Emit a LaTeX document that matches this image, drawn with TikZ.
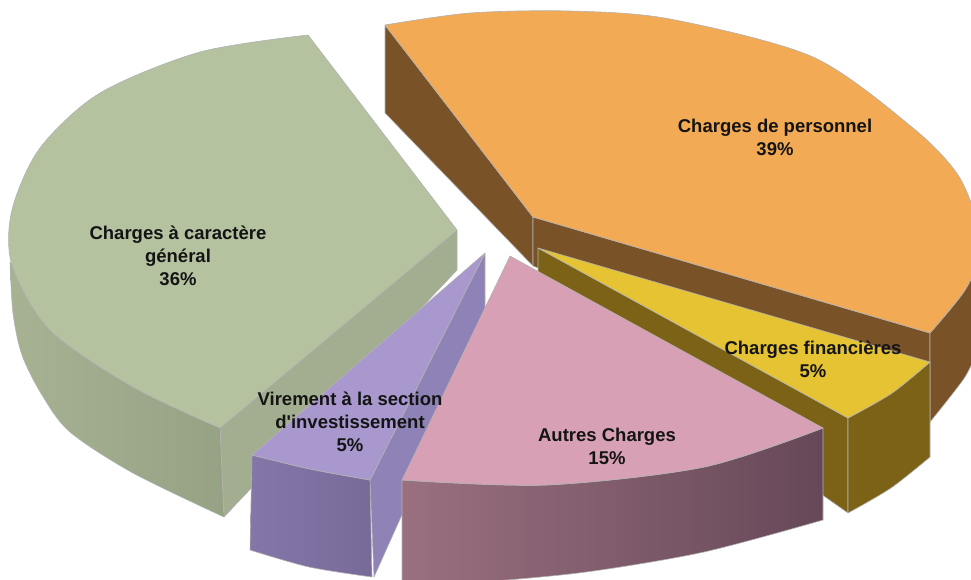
\documentclass[tikz,border=0pt]{standalone}
\usepackage{fontspec}
\setmainfont{Liberation Sans}[Ligatures=TeXOff]
\definecolor{orangetop}{RGB}{242,170,85}
\definecolor{orangeside}{RGB}{122,82,40}
\definecolor{yellowtop}{RGB}{230,195,50}
\definecolor{yellowside}{RGB}{124,98,22}
\definecolor{greentop}{RGB}{180,194,160}
\definecolor{greensideL}{RGB}{166,178,146}
\definecolor{greensideR}{RGB}{150,162,132}
\definecolor{greenradial}{RGB}{162,174,143}
\definecolor{purpletop}{RGB}{168,152,205}
\definecolor{purplesideL}{RGB}{132,118,168}
\definecolor{purplesideR}{RGB}{120,106,152}
\definecolor{purpleradial}{RGB}{142,130,182}
\definecolor{pinktop}{RGB}{216,160,180}
\definecolor{pinksideL}{RGB}{154,112,128}
\definecolor{pinksideR}{RGB}{102,72,88}
\tikzset{
  edge/.style={draw=black!30, line width=0.6pt, line join=round},
  lbl/.style={font=\fontsize{18.5}{23}\selectfont\bfseries, align=center, inner sep=0pt, text=black!92},
}
\begin{document}
\begin{tikzpicture}[x=1pt,y=-1pt]
\useasboundingbox (0,0) rectangle (971,579);
\clip (0,0) rectangle (971,579);
% ---------- Orange: Charges de personnel ----------
\path[edge, fill=orangeside] (385,25) -- (533,217) -- (533,266) -- (385,113) -- cycle;
\path[edge, fill=orangeside] (533,217) -- (930,333) -- (930,422) -- (533,266) -- cycle;
\path[edge, fill=orangeside] plot[smooth] coordinates {(930,333) (965,290) (980,250)} -- (995,250) -- (995,345)
   -- plot[smooth] coordinates {(978,348) (965,377) (930,422)} -- cycle;
\path[edge, fill=orangetop] (533,217) -- plot[smooth] coordinates {(385,25) (470,13) (570,11) (670,19) (813,57) (913,128) (958,175) (978,225) (978,260) (965,290) (930,333)} -- cycle;
% ---------- Yellow: Charges financieres ----------
\path[edge, fill=yellowside] (538,248) -- (848,418) -- (848,513) -- (538,295) -- cycle;
\path[edge, fill=yellowside] plot[smooth] coordinates {(848,418) (892,393) (930,362)} -- (930,457)
   -- plot[smooth] coordinates {(930,457) (891,488) (848,513)} -- cycle;
\path[edge, fill=yellowtop] (538,248) -- plot[smooth] coordinates {(930,362) (892,393) (848,418)} -- cycle;
% ---------- Green: Charges a caractere general ----------
\path[edge, fill=greenradial] (457,230) -- (457,270) -- (224,517) -- (220,428) -- cycle;
\path[edge, left color=greensideL, right color=greensideR] plot[smooth] coordinates {(220,428) (133,387) (50,330) (12,265)}
   -- plot[smooth] coordinates {(10,262) (13,313) (22,355) (42,395) (70,432) (133,473) (224,517)} -- cycle;
\path[edge, fill=greentop] (457,230) -- plot[smooth] coordinates {(308,35) (200,52) (100,93) (40,148) (12,210) (12,265) (50,330) (133,387) (220,428)} -- cycle;
% ---------- Purple: Virement a la section d'investissement ----------
\path[edge, fill=purpleradial] (485,253) -- (485,330) -- (374,577) -- (370,480) -- cycle;
\path[edge, left color=purplesideL, right color=purplesideR] plot[smooth] coordinates {(252,455) (310,469) (370,480)} -- (372,577)
   -- plot[smooth] coordinates {(372,577) (309,567) (250,550)} -- cycle;
\path[edge, fill=purpletop] (485,253) -- plot[smooth] coordinates {(252,455) (310,469) (370,480)} -- cycle;
% ---------- Pink: Autres Charges ----------
\path[edge, left color=pinksideL, right color=pinksideR] plot[smooth] coordinates {(402,480) (546,485) (704,467) (823,428)} -- (823,520)
   -- plot[smooth] coordinates {(823,520) (704,552) (586,572) (480,582) (402,585)} -- cycle;
\path[edge, fill=pinktop] (510,256) -- plot[smooth] coordinates {(823,428) (704,467) (546,485) (402,480)} -- cycle;
% ---------- Labels ----------
\node[lbl] (lpers) at (775,137) {Charges de personnel\\39\%};
\node[lbl] (lgen) at (178,256) {Charges à caractère\\général\\36\%};
\node[lbl] (lvir) at (350,422) {Virement à la section\\d'investissement\\5\%};
\node[lbl] (laut) at (607,446) {Autres Charges\\15\%};
\node[lbl] (lfin) at (813,359) {Charges financières\\5\%};
\end{tikzpicture}
\end{document}
